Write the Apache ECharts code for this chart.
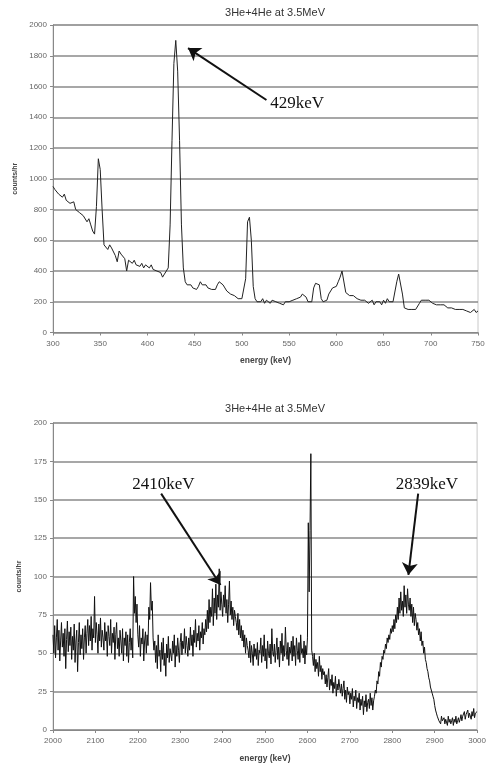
<!DOCTYPE html>
<html>
<head>
<meta charset="utf-8">
<script src="https://cdn.jsdelivr.net/npm/echarts@6/dist/echarts.min.js"></script>
<style>
  html, body { margin: 0; padding: 0; background: #fff; }
  #main { width: 489px; height: 768px; }
</style>
</head>
<body>
<div id="main"></div>
<script>
// titulos e eixos
const chartTitle = '3He+4He at 3.5MeV';
const xName = 'energy (keV)';
const yName = 'counts/hr';

// espectro de cima: 300..750 keV, um canal a cada 2 keV
const topStart = 300;
const topStep = 2;
const topCounts = [
  950, 930, 940, 900, 910, 880, 900, 860, 870, 840,
  830, 850, 800, 810, 780, 790, 760, 770, 720, 740,
  700, 660, 640, 820, 1130, 1060, 800, 570, 560, 540,
  570, 550, 540, 500, 460, 530, 510, 520, 480, 400,
  470, 460, 450, 470, 440, 450, 430, 450, 420, 440,
  430, 420, 440, 410, 420, 400, 400, 390, 360, 380,
  390, 420, 700, 1250, 1750, 1900, 1700, 1250, 700, 420,
  330, 310, 300, 310, 290, 300, 280, 300, 330, 310,
  300, 310, 290, 300, 280, 290, 280, 310, 330, 320,
  310, 290, 270, 260, 250, 260, 240, 230, 220, 230,
  220, 210, 350, 720, 750, 600, 300, 220, 200, 210,
  200, 220, 190, 210, 200, 190, 210, 220, 200, 210,
  190, 200, 180, 200, 190, 200, 190, 210, 200, 220,
  210, 230, 250, 260, 230, 200, 210, 200, 290, 320,
  320, 310, 220, 200, 200, 210, 250, 270, 290, 280,
  300, 330, 360, 400, 390, 260, 250, 240, 250, 240,
  230, 220, 230, 210, 200, 210, 200, 190, 200, 210,
  180, 200, 190, 200, 180, 210, 190, 220, 200, 210,
  200, 190, 330, 380, 370, 250, 160, 150, 150, 140,
  150, 140, 150, 160, 190, 210, 220, 210, 200, 210,
  200, 190, 200, 180, 190, 180, 170, 180, 170, 160,
  170, 160, 160, 150, 160, 150, 140, 150, 145, 140,
  150, 130, 140, 150, 130, 140
];

// espectro de baixo: 2000..3000 keV, um canal a cada 2 keV (linha = 40 keV)
const botStart = 2000;
const botStep = 2;
const botCounts = [
  62, 50, 68, 47, 60, 72, 52, 65, 45, 58, 70, 54, 63, 48, 66, 40, 59, 71, 51, 64,
  55, 67, 46, 61, 52, 69, 44, 58, 65, 38, 57, 70, 49, 62, 53, 66, 46, 60, 68, 50,
  63, 72, 55, 68, 58, 74, 52, 66, 60, 87, 57, 70, 62, 50, 69, 58, 73, 54, 65, 60,
  52, 70, 58, 64, 48, 68, 61, 55, 72, 50, 63, 57, 67, 46, 62, 70, 53, 60, 48, 65,
  58, 50, 66, 45, 60, 55, 64, 48, 62, 44, 57, 66, 52, 60, 47, 100, 76, 87, 70, 82,
  62, 54, 68, 48, 60, 56, 66, 45, 58, 64, 50, 62, 55, 80, 72, 96, 78, 84, 60, 52,
  58, 44, 55, 40, 62, 48, 52, 38, 57, 46, 60, 42, 50, 35, 56, 47, 61, 44, 53, 49,
  45, 58, 50, 62, 41, 55, 48, 60, 52, 44, 57, 63, 49, 58, 53, 66, 50, 61, 55, 48,
  60, 52, 67, 55, 62, 48, 65, 57, 72, 54, 63, 58, 68, 52, 64, 60, 70, 56, 66, 62,
  72, 64, 78, 66, 85, 70, 80, 74, 92, 68, 86, 76, 95, 72, 88, 80, 105, 78, 90, 82,
  74, 88, 80, 94, 76, 85, 70, 82, 97, 75, 84, 72, 80, 68, 78, 74, 70, 65, 76, 62,
  72, 60, 68, 58, 65, 54, 62, 50, 60, 55, 52, 47, 58, 44, 55, 50, 42, 56, 48, 53,
  46, 57, 42, 52, 50, 60, 44, 55, 48, 62, 45, 53, 40, 58, 50, 47, 56, 43, 66, 51,
  48, 56, 44, 52, 60, 46, 54, 41, 58, 50, 63, 45, 55, 48, 67, 52, 46, 57, 42, 54,
  50, 58, 45, 61, 48, 55, 42, 60, 52, 46, 57, 44, 62, 50, 53, 47, 58, 43, 55, 49,
  60, 135, 90, 130, 180, 52, 48, 42, 50, 38, 46, 40, 44, 35, 48, 38, 42, 33, 40, 36,
  38, 30, 36, 28, 34, 40, 26, 33, 29, 36, 24, 31, 27, 35, 22, 30, 26, 33, 28, 24,
  30, 22, 27, 32, 20, 26, 18, 28, 23, 25, 17, 24, 20, 27, 15, 22, 19, 26, 14, 21,
  18, 24, 13, 20, 16, 22, 10, 19, 15, 23, 12, 18, 20, 14, 24, 16, 21, 13, 19, 22,
  26, 24, 32, 30, 38, 35, 44, 41, 48, 46, 52, 50, 56, 53, 60, 57, 62, 59, 66, 63,
  68, 64, 72, 66, 75, 70, 80, 72, 86, 76, 90, 78, 84, 74, 94, 80, 88, 76, 92, 82,
  78, 86, 74, 82, 70, 80, 68, 76, 72, 65, 70, 62, 66, 58, 64, 55, 58, 50, 54, 46,
  44, 40, 38, 34, 32, 28, 27, 24, 22, 20, 16, 13, 11, 9, 8, 6, 7, 4, 9, 6,
  5, 8, 4, 7, 6, 3, 9, 5, 7, 4, 6, 8, 3, 7, 5, 9, 4, 6, 8, 5,
  7, 10, 6, 9, 8, 12, 7, 10, 9, 13, 8, 11, 10, 7, 12, 9, 14, 8, 11, 10,
  12
];

// eixos
const topXTicks = [300, 750, 50];   // min, max, intervalo
const topYTicks = [0, 2000, 200];
const botXTicks = [2000, 3000, 100];
const botYTicks = [0, 200, 25];

// anotacoes: texto, canto do texto, inicio e ponta da seta (keV, counts)
const topNotes = [
  { text: '429keV', at: [530, 1486], from: [526, 1512], to: [443, 1850] }
];
const botNotes = [
  { text: '2410keV', at: [2187, 160], from: [2255, 154], to: [2395, 94.5] },
  { text: '2839keV', at: [2808, 160], from: [2861, 154], to: [2838, 101] }
];

const $ = document.querySelector.bind(document);
const myChart = echarts.init($('#main'), null, { renderer: 'canvas' });

const toPairs = (start, step, arr) => arr.map((v, i) => [start + i * step, v]);

const gridColor = '#8a8a8a';
const labelFont = { fontFamily: 'Liberation Sans', fontSize: 8, color: '#666' };

function xAxisFor(idx, ticks) {
  return {
    type: 'value', gridIndex: idx,
    min: ticks[0], max: ticks[1], interval: ticks[2],
    name: xName, nameLocation: 'middle', nameGap: 24,
    nameTextStyle: { fontFamily: 'Liberation Sans', fontSize: 8.5, fontWeight: 'bold', color: '#444' },
    axisLine: { lineStyle: { color: '#888', width: 1 } },
    axisTick: { show: true, length: 3, lineStyle: { color: '#888' } },
    axisLabel: Object.assign({ margin: 7, formatter: v => String(v) }, labelFont),
    splitLine: { show: false }
  };
}

function yAxisFor(idx, ticks) {
  return {
    type: 'value', gridIndex: idx,
    min: ticks[0], max: ticks[1], interval: ticks[2],
    name: yName, nameLocation: 'middle', nameGap: 21, nameRotate: 90,
    nameTextStyle: { fontFamily: 'Liberation Sans', fontSize: 7, fontWeight: 'bold', color: '#444' },
    axisLine: { show: true, lineStyle: { color: '#888', width: 1 } },
    axisTick: { show: true, length: 3, lineStyle: { color: '#888' } },
    axisLabel: Object.assign({ margin: 6, formatter: v => String(v) }, labelFont),
    splitLine: { show: true, lineStyle: { color: gridColor, width: 1.5 } }
  };
}

function notesFor(notes) {
  return {
    markPoint: {
      silent: true, symbol: 'circle', symbolSize: 0, animation: false,
      data: notes.map(n => ({
        coord: n.at,
        label: {
          show: true, position: 'right', distance: 0, formatter: n.text,
          fontFamily: 'Liberation Serif', fontSize: 17, color: '#111'
        }
      }))
    },
    markLine: {
      silent: true, animation: false,
      symbol: ['none', 'arrow'], symbolSize: 12,
      label: { show: false },
      lineStyle: { color: '#111', width: 2, type: 'solid' },
      data: notes.map(n => [{ coord: n.from }, { coord: n.to }])
    }
  };
}

const option = {
  animation: false,
  backgroundColor: '#fff',
  title: [
    { text: chartTitle, left: 270, top: 2, textAlign: 'center',
      textStyle: { fontFamily: 'Liberation Sans', fontSize: 11, fontWeight: 'normal', color: '#333' } },
    { text: chartTitle, left: 270, top: 398, textAlign: 'center',
      textStyle: { fontFamily: 'Liberation Sans', fontSize: 11, fontWeight: 'normal', color: '#333' } }
  ],
  grid: [
    { left: 53, top: 25, width: 425, height: 307.5, show: true, borderColor: '#c8c8c8', borderWidth: 1 },
    { left: 53, top: 423, width: 427, height: 307, show: true, borderColor: '#c8c8c8', borderWidth: 1 }
  ],
  xAxis: [xAxisFor(0, topXTicks), xAxisFor(1, botXTicks)],
  yAxis: [yAxisFor(0, topYTicks), yAxisFor(1, botYTicks)],
  series: [
    Object.assign({
      type: 'line', xAxisIndex: 0, yAxisIndex: 0,
      data: toPairs(topStart, topStep, topCounts),
      showSymbol: false, symbol: 'none',
      lineStyle: { color: '#222', width: 1 }
    }, notesFor(topNotes)),
    Object.assign({
      type: 'line', xAxisIndex: 1, yAxisIndex: 1,
      data: toPairs(botStart, botStep, botCounts),
      showSymbol: false, symbol: 'none',
      lineStyle: { color: '#111', width: 1 }
    }, notesFor(botNotes))
  ]
};

myChart.setOption(option);
</script>
</body>
</html>
